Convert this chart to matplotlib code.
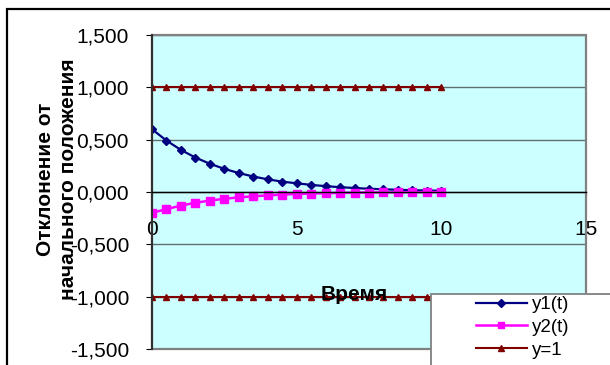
import matplotlib.pyplot as plt
from matplotlib.patches import Rectangle
from matplotlib.ticker import FuncFormatter

plt.rcParams['font.family'] = ['Liberation Sans', 'DejaVu Sans']

# время и отклонения (шаг 0,5)
t = [0.0, 0.5, 1.0, 1.5, 2.0, 2.5, 3.0, 3.5, 4.0, 4.5, 5.0,
     5.5, 6.0, 6.5, 7.0, 7.5, 8.0, 8.5, 9.0, 9.5, 10.0]
y1 = [0.600, 0.491, 0.402, 0.329, 0.270, 0.221, 0.181, 0.148, 0.121, 0.099, 0.083,
      0.068, 0.056, 0.046, 0.038, 0.031, 0.026, 0.021, 0.017, 0.014, 0.012]
y2 = [-0.200, -0.163, -0.130, -0.103, -0.082, -0.065, -0.051, -0.041, -0.032, -0.025, -0.019,
      -0.015, -0.012, -0.009, -0.007, -0.005, -0.004, -0.003, -0.002, -0.001, -0.001]
y_up = [1.0, 1.0, 1.0, 1.0, 1.0, 1.0, 1.0, 1.0, 1.0, 1.0, 1.0,
        1.0, 1.0, 1.0, 1.0, 1.0, 1.0, 1.0, 1.0, 1.0, 1.0]
y_down = [-1.0, -1.0, -1.0, -1.0, -1.0, -1.0, -1.0, -1.0, -1.0, -1.0, -1.0,
          -1.0, -1.0, -1.0, -1.0, -1.0, -1.0, -1.0, -1.0, -1.0, -1.0]

x_ticks = [0, 5, 10, 15]
y_ticks = [-1.5, -1.0, -0.5, 0.0, 0.5, 1.0, 1.5]

W, H = 610, 365
fig = plt.figure(figsize=(W / 100, H / 100), dpi=100)
fig.patch.set_facecolor('white')

# рамка всей диаграммы
fig.add_artist(Rectangle((7 / W, -0.5), 2, (1 - 9.3 / H) + 0.5, transform=fig.transFigure,
                         fill=False, edgecolor='black', linewidth=1.6))

ax = fig.add_axes([152 / W, 1 - 349 / H, 434 / W, 314 / H])
ax.set_facecolor('#ccffff')
ax.set_xlim(0, 15)
ax.set_ylim(-1.5, 1.5)
ax.set_xticks(x_ticks)
ax.set_yticks(y_ticks)
ax.yaxis.set_major_formatter(FuncFormatter(lambda v, p: f"{v:.3f}".replace('.', ',')))

ax.grid(axis='y', color='#5f6e6e', linewidth=1.0)
ax.set_axisbelow(True)
ax.spines['top'].set_visible(False)
ax.spines['right'].set_visible(False)
ax.spines['bottom'].set_position(('data', 0))
ax.spines['bottom'].set_color('black')
ax.spines['bottom'].set_linewidth(1.0)
ax.spines['left'].set_color('#303030')
ax.spines['left'].set_linewidth(1.5)
ax.add_patch(Rectangle((0, 0), 1, 1, transform=ax.transAxes, fill=False,
                       edgecolor='#808080', linewidth=1.6, clip_on=False, zorder=1))

ax.tick_params(axis='x', direction='out', length=3, pad=17, labelsize=15)
ax.tick_params(axis='y', direction='out', length=4.5, pad=12, labelsize=15)

l1, = ax.plot(t, y1, color='#000080', linewidth=1.6, marker='D', markersize=4)
l2, = ax.plot(t, y2, color='#ff00ff', linewidth=1.8, marker='s', markersize=5.5)
l3, = ax.plot(t, y_up, color='#800000', linewidth=1.5, marker='^', markersize=5)
ax.plot(t, y_down, color='#800000', linewidth=1.5, marker='^', markersize=5)

ax.text((354 - 152) / 434, (349 - 294) / 314, 'Время', transform=ax.transAxes,
        ha='center', va='center', fontsize=15, fontweight='bold', zorder=5)
fig.text(57 / W, 1 - 179 / H, 'Отклонение от\nначального положения', rotation=90,
         ha='center', va='center', fontsize=15, fontweight='bold', linespacing=1.3)

# легенда
fig.add_artist(Rectangle((431 / W, -0.5), 1, (1 - 294 / H) + 0.5, transform=fig.transFigure,
                         facecolor='white', edgecolor='#808080', linewidth=1.3, zorder=3))
fig.legend([l1, l2, l3], ['y1(t)', 'y2(t)', 'y=1'], loc='upper left',
           bbox_to_anchor=(476 / W, 1 - 296 / H), frameon=False, fontsize=13.5,
           handlelength=2.7, handletextpad=0.3, labelspacing=0.3,
           borderpad=0, borderaxespad=0, markerscale=0.9)

fig.savefig('out.png', dpi=100)
